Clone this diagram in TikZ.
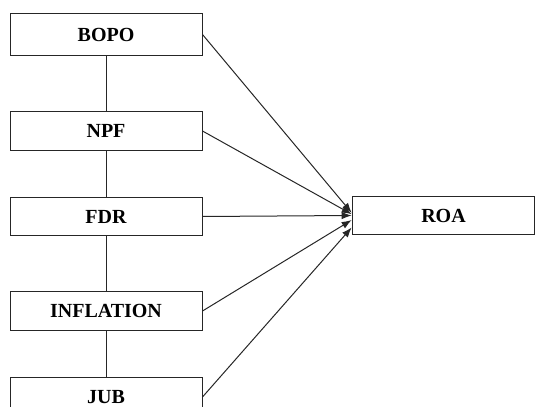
\documentclass[tikz,border=0pt]{standalone}
\usepackage{fontspec}
\setmainfont{Liberation Serif}
\usetikzlibrary{arrows.meta}

\begin{document}
\begin{tikzpicture}[x=0.75pt,y=-0.75pt]
    \tikzstyle{var}=[rectangle,draw=black!85,line width=0.75pt,minimum width=144pt,minimum height=29pt,inner sep=0pt,font=\fontsize{15}{17}\selectfont\bfseries]
    \tikzstyle{link}=[draw=black!85,line width=0.75pt]
    \tikzstyle{effect}=[link,-{Latex[length=7.5pt,width=5.5pt]}]
    \useasboundingbox (0,0) rectangle (537,407);
    \node[var,minimum height=32pt] (bopo) at (106,34.5) {BOPO};
    \node[var] (npf) at (106,131) {NPF};
    \node[var] (fdr) at (106,216.5) {FDR};
    \node[var] (infl) at (106,311) {INFLATION};
    \node[var] (jub) at (106,397) {JUB};
    \node[var,minimum width=137pt] (roa) at (443.5,215.5) {ROA};
    \draw[link] (bopo) -- (npf);
    \draw[link] (npf) -- (fdr);
    \draw[link] (fdr) -- (infl);
    \draw[link] (infl) -- (jub);
    \draw[effect] (bopo.east) -- ([yshift=2pt]roa.west);
    \draw[effect] (npf.east) -- ([yshift=1pt]roa.west);
    \draw[effect] (fdr.east) -- (roa.west);
    \draw[effect] (infl.east) -- ([yshift=-3.4pt]roa.west);
    \draw[effect] (jub.east) -- ([yshift=-9pt]roa.west);
\end{tikzpicture}
\end{document}
